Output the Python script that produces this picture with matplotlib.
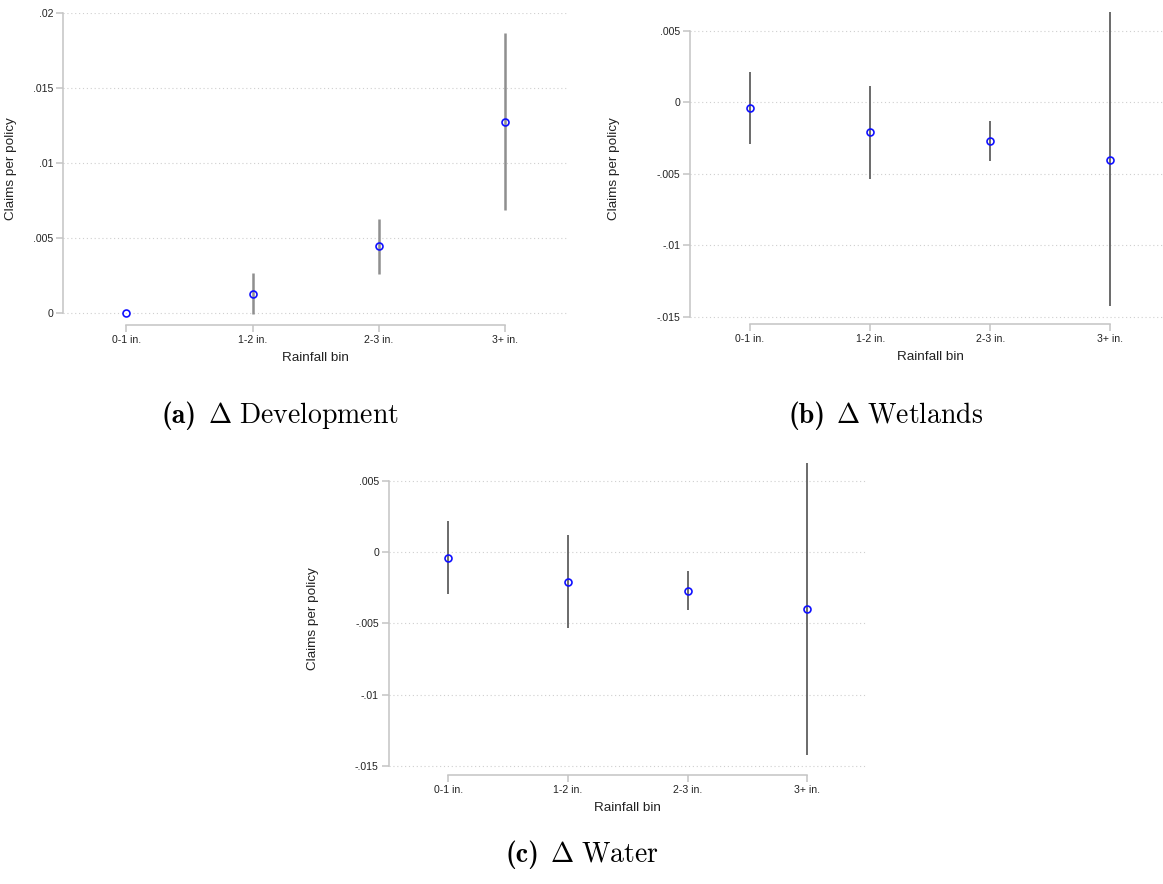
import matplotlib.pyplot as plt
import numpy as np

plt.rcParams.update({
    "font.family": "Liberation Sans",
    "mathtext.fontset": "cm",
    "axes.edgecolor": "#c4c4c4",
    "axes.linewidth": 1.1,
    "xtick.color": "#c4c4c4",
    "ytick.color": "#c4c4c4",
    "xtick.labelcolor": "#222222",
    "ytick.labelcolor": "#222222",
})

bins = ["0-1 in.", "1-2 in.", "2-3 in.", "3+ in."]

# (a) change in development
dev_coef = [-0.00005, 0.00124, 0.00442, 0.01273]
dev_lo = [-0.00005, -0.00011, 0.00258, 0.00684]
dev_hi = [-0.00005, 0.00262, 0.00627, 0.01864]
dev_yticks = [0, 0.005, 0.01, 0.015, 0.02]
dev_yticklabels = ["0", ".005", ".01", ".015", ".02"]

# (b) change in wetlands
wet_coef = [-0.0004, -0.00208, -0.00271, -0.0040]
wet_lo = [-0.00294, -0.00533, -0.00409, -0.01423]
wet_hi = [0.00215, 0.00117, -0.00133, 0.00631]

# (c) change in water
wat_coef = [-0.0004, -0.00208, -0.00271, -0.0040]
wat_lo = [-0.00294, -0.00533, -0.00409, -0.01423]
wat_hi = [0.00215, 0.00117, -0.00133, 0.00631]

neg_yticks = [-0.015, -0.01, -0.005, 0, 0.005]
neg_yticklabels = ["-.015", "-.01", "-.005", "0", ".005"]

W, H = 1163, 884
fig = plt.figure(figsize=(W / 100, H / 100), dpi=100)


def add_axes(left, top, right, bottom):
    return fig.add_axes([left / W, 1 - bottom / H, (right - left) / W, (bottom - top) / H])


def coefplot(ax, coef, lo, hi, yticks, yticklabels, ylim, label_gap, ci_color, ci_lw):
    x = np.arange(len(bins))
    ax.vlines(x, lo, hi, color=ci_color, lw=ci_lw, zorder=2)
    ax.plot(x, coef, "o", ms=5, mfc="none", mec="#1010ff", mew=1.2, zorder=3)
    ax.set_xlim(-0.5, 3.5)
    ax.set_ylim(*ylim)
    ax.set_xticks(x)
    ax.set_xticklabels(bins, fontsize=7.6)
    ax.set_yticks(yticks)
    ax.set_yticklabels(yticklabels, fontsize=7.6)
    ax.tick_params(length=5, width=1.1, pad=2)
    ax.yaxis.grid(True, color="#cfcfcf", lw=0.8, ls=(0, (1, 2.5)))
    ax.set_axisbelow(True)
    for s in ["top", "right"]:
        ax.spines[s].set_visible(False)
    ax.spines["left"].set_bounds(yticks[0], yticks[-1])
    ax.spines["bottom"].set_bounds(0, len(bins) - 1)
    ax.set_xlabel("Rainfall bin", fontsize=9.7, color="#222222", labelpad=5)
    ax.set_ylabel("Claims per policy", fontsize=9.7, color="#222222")
    w = ax.get_position().width * W
    ax.yaxis.set_label_coords(-label_gap / w, 0.5)


ax_a = add_axes(63.3, 12.7, 568.3, 325)
coefplot(ax_a, dev_coef, dev_lo, dev_hi, dev_yticks, dev_yticklabels,
         (-0.00083, 0.02), 46.7, "#8f8f8f", 1.8)

ax_b = add_axes(690, 12.3, 1170.4, 324.3)
coefplot(ax_b, wet_coef, wet_lo, wet_hi, neg_yticks, neg_yticklabels,
         (-0.01553, 0.00631), 70, "#6a6a6a", 1.4)

ax_c = add_axes(388.6, 462.7, 867.2, 775)
coefplot(ax_c, wat_coef, wat_lo, wat_hi, neg_yticks, neg_yticklabels,
         (-0.01563, 0.00626), 70, "#6a6a6a", 1.4)

# subfigure captions: bold tag plus a Computer Modern title, centred as a group
renderer = fig.canvas.get_renderer()


def caption(tag, title, cx, baseline):
    y = 1 - baseline / H
    t1 = fig.text(0, y, tag, fontsize=20, family="cmb10", va="baseline")
    t2 = fig.text(0, y, title, fontsize=20, va="baseline")
    w1 = t1.get_window_extent(renderer).width
    w2 = t2.get_window_extent(renderer).width
    gap = 11
    x0 = cx - (w1 + gap + w2) / 2
    t1.set_x(x0 / W)
    t2.set_x((x0 + w1 + gap) / W)


caption("(a)", r"$\Delta\ \mathrm{Development}$", 280, 422.5)
caption("(b)", r"$\Delta\ \mathrm{Wetlands}$", 886, 422.5)
caption("(c)", r"$\Delta\ \mathrm{Water}$", 582, 862)

fig.savefig("out.png", dpi=100, facecolor="white")
plt.close(fig)
